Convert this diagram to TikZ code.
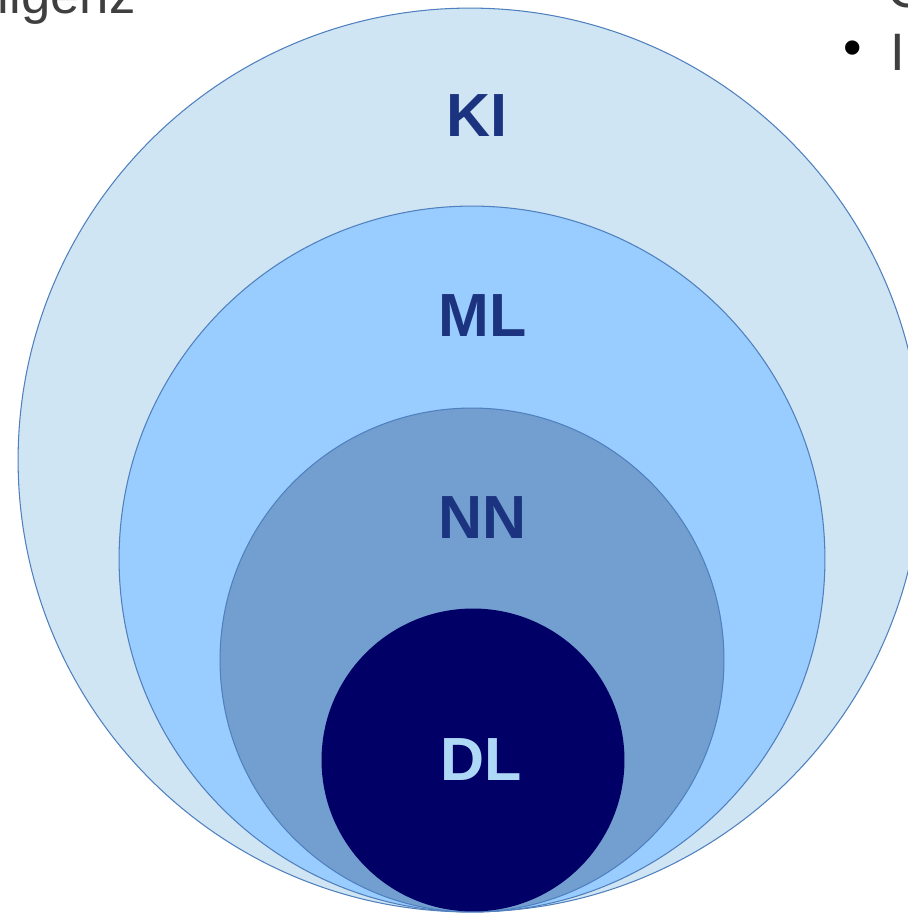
\documentclass[tikz,border=0pt]{standalone}
\usepackage{fontspec}
\setmainfont{Liberation Sans}

\definecolor{kifill}{HTML}{CFE5F3}
\definecolor{mlfill}{HTML}{99CCFF}
\definecolor{nnfill}{HTML}{729FCF}
\definecolor{dlfill}{HTML}{000066}
\definecolor{rimcol}{HTML}{5080BE}
\definecolor{setcol}{HTML}{1C3480}
\definecolor{dltext}{HTML}{AED8F6}
\definecolor{slidegray}{HTML}{3F3F3F}

\tikzset{
	ring/.style={draw=rimcol, line width=0.6pt},
	setname/.style={inner sep=0pt, font=\fontsize{34.7}{40}\selectfont\bfseries, text=setcol},
	slidetext/.style={inner sep=0pt, anchor=base west, font=\fontsize{30}{36}\selectfont, text=slidegray}
}

\begin{document}
\begin{tikzpicture}[x=0.02cm, y=-0.02cm]
	\useasboundingbox (0,0) rectangle (908,913);
	\clip (0,0) rectangle (908,913);

	\coordinate (KI) at (470,460);
	\coordinate (ML) at (472,559);
	\coordinate (NN) at (472,660);
	\coordinate (DL) at (473,760);

	% nested sets
	\filldraw[ring, fill=kifill] (KI) circle[radius=9.04cm];
	\filldraw[ring, fill=mlfill] (ML) circle[radius=7.06cm];
	\filldraw[ring, fill=nnfill] (NN) circle[radius=5.04cm];
	\fill[dlfill] (DL) circle[radius=3.03cm];

	\node[setname] (kilab) at (477,116) {KI};
	\node[setname] (mllab) at (483,316) {ML};
	\node[setname] (nnlab) at (483,518) {NN};
	\node[setname, text=dltext] (dllab) at (481,760) {DL};

	% cut-off slide text
	\node[slidetext, anchor=base east] (title) at (136,13) {ligenz};
	\node[slidetext] (topline) at (887,7) {C};
	\node[slidetext, text=black] (bullet) at (843,65) {•};
	\node[slidetext] (item) at (890,70) {In};
\end{tikzpicture}
\end{document}
